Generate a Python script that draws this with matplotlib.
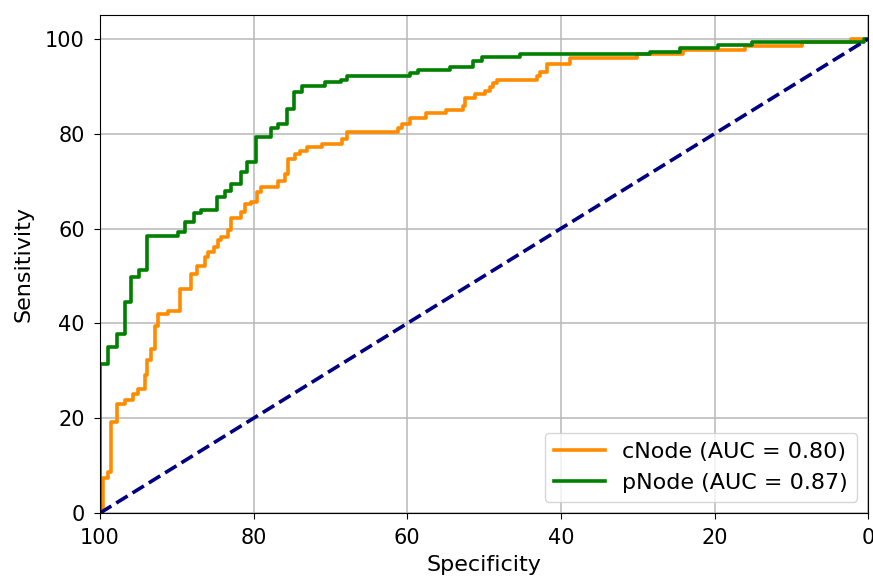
import numpy as np
import matplotlib
matplotlib.use("Agg")
import matplotlib.pyplot as plt

# ROC step vertices: (specificity, sensitivity) at top of each riser
cnode_spec = [100, 99.6, 98.9, 98.6, 97.8, 96.7, 95.7, 95.0, 94.2, 93.9, 93.4, 92.8,
              92.4, 91.1, 89.6, 88.2, 87.4, 86.3, 85.9, 85.2, 84.6, 84.2, 83.3, 82.9,
              81.6, 81.1, 80.3, 79.5, 79.0, 76.8, 75.9, 75.5, 74.6, 74.0, 73.1, 71.1,
              68.5, 67.9, 61.2, 60.7, 59.6, 57.6, 54.9, 52.8, 52.5, 51.2, 49.9, 49.2,
              48.8, 48.3, 43.1, 42.7, 41.8, 38.8, 30.1, 24.1, 16.0, 8.6, 2.3, 0]
cnode_sens = [0, 7.3, 8.7, 19.2, 22.9, 23.8, 25.2, 26.2, 29.1, 32.2, 34.7, 39.4,
              41.9, 42.6, 47.3, 50.5, 52.2, 54.0, 55.0, 56.1, 57.5, 58.2, 59.6, 62.2,
              63.5, 65.2, 65.5, 67.7, 68.7, 70.1, 71.5, 74.7, 75.7, 76.4, 77.3, 77.8,
              78.9, 80.4, 81.2, 82.0, 83.4, 84.3, 85.1, 85.9, 87.5, 88.4, 89.1, 89.9,
              90.7, 91.4, 92.2, 93.0, 94.7, 95.9, 96.9, 97.7, 98.5, 99.4, 100, 100]

pnode_spec = [100, 100, 98.9, 97.8, 96.8, 95.9, 94.9, 93.9, 89.8, 88.9, 87.8, 86.8,
              84.8, 83.7, 82.9, 81.7, 80.8, 79.7, 77.7, 76.8, 75.6, 74.7, 73.7, 70.7,
              68.6, 67.8, 59.6, 58.6, 54.5, 51.4, 50.3, 45.3, 28.4, 24.5, 19.5, 15.1,
              0.6, 0]
pnode_sens = [0, 31.5, 35.0, 37.7, 44.5, 49.8, 51.2, 58.5, 59.2, 61.3, 63.3, 63.9,
              66.6, 68.0, 69.4, 72.0, 74.0, 79.4, 81.3, 82.0, 85.3, 88.8, 90.0, 90.8,
              91.4, 92.1, 92.8, 93.4, 94.1, 95.4, 96.1, 96.8, 97.3, 98.0, 98.7, 99.4,
              100, 100]

labels = ["cNode (AUC = 0.80)", "pNode (AUC = 0.87)"]

plt.rcParams['font.size'] = 15
fig = plt.figure(figsize=(8.73, 5.83), dpi=100)
ax = fig.add_axes([0.1145, 0.12, 0.88, 0.854])

ax.plot(cnode_spec, cnode_sens, drawstyle='steps-post', color='darkorange', lw=2.6, label=labels[0])
ax.plot(pnode_spec, pnode_sens, drawstyle='steps-post', color='green', lw=2.6, label=labels[1])
ax.plot([100, 0], [0, 100], color='navy', lw=2.6, linestyle='--')

ax.set_xlim(100, 0)
ax.set_ylim(0, 105)
ax.set_xticks([100, 80, 60, 40, 20, 0])
ax.set_yticks([0, 20, 40, 60, 80, 100])
ax.tick_params(labelsize=15, length=4, pad=7)
ax.grid(True, color='#b8b8b8', lw=1.1)
ax.set_axisbelow(True)
ax.set_xlabel("Specificity", fontsize=16, labelpad=5)
ax.set_ylabel("Sensitivity", fontsize=16, labelpad=8)
ax.legend(loc='lower right', fontsize=16, handlelength=2.3)

fig.savefig("out.png", dpi=100)
